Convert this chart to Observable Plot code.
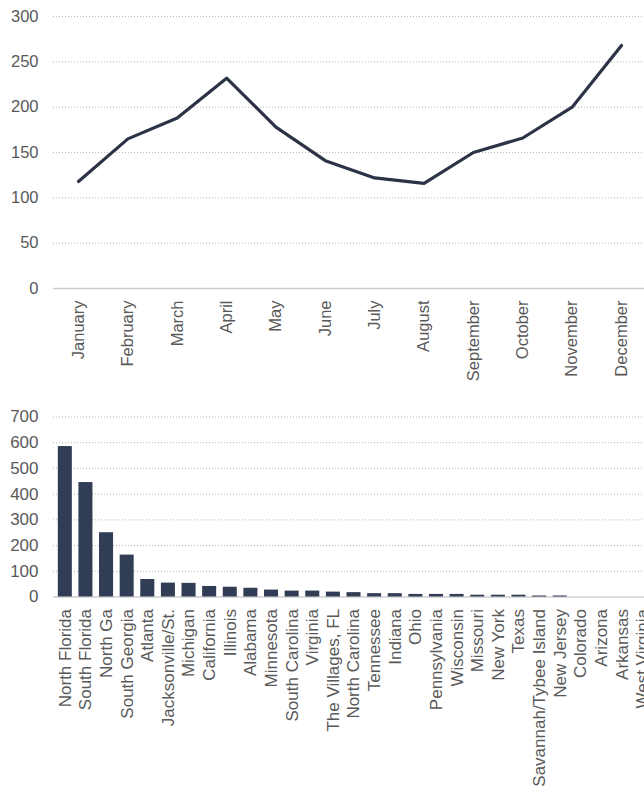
<!DOCTYPE html>
<html>
<head>
<meta charset="utf-8">
<script src="https://cdn.jsdelivr.net/npm/d3@7"></script>
<script src="https://cdn.jsdelivr.net/npm/@observablehq/plot@0.6"></script>
<style>
  html, body { margin: 0; padding: 0; background: #fff; overflow: hidden; }
  #chart svg { display: block; }
</style>
</head>
<body>
<div id="chart"></div>
<script>
// Monthly line chart
const months = ["January","February","March","April","May","June","July","August","September","October","November","December"];
const monthValues = [118, 165, 188, 232, 178, 141, 122, 116, 150, 166, 200, 268];
const lineTicks = [0, 50, 100, 150, 200, 250, 300];

// Location bar chart
const locations = ["North Florida","South Florida","North Ga","South Georgia","Atlanta","Jacksonville/St.","Michigan","California","Illinois","Alabama","Minnesota","South Carolina","Virginia","The Villages, FL","North Carolina","Tennessee","Indiana","Ohio","Pennsylvania","Wisconsin","Missouri","New York","Texas","Savannah/Tybee Island","New Jersey","Colorado","Arizona","Arkansas","West Virginia"];
const locationValues = [585, 445, 250, 163, 68, 54, 53, 41, 38, 34, 27, 23, 23, 19, 17, 13, 13, 10, 10, 10, 7, 7, 7, 4, 4, 0, 0, 0, 0];
const barTicks = [0, 100, 200, 300, 400, 500, 600, 700];

const textColor = "#595959";
const gridColor = "#b4b4b4";
const baseColor = "#cfcfcf";
const ink = "#2c3346";
const barFill = "#313c55";

const lineData = months.map((m, i) => ({month: m, value: monthValues[i]}));
const barData = locations.map((c, i) => ({loc: c, value: locationValues[i]}));

const lineChart = Plot.plot({
  width: 644,
  height: 395,
  marginLeft: 53,
  marginRight: 0,
  marginTop: 16,
  marginBottom: 107,
  style: {fontFamily: "'Liberation Sans', Arial, sans-serif", fontSize: "16.5px", color: textColor, background: "#fff"},
  x: {type: "point", domain: months, range: [78, 621], padding: 0, round: false, tickRotate: -90, tickSize: 0, tickPadding: 12, label: null},
  y: {domain: [0, 300], ticks: lineTicks, tickSize: 0, tickPadding: 15, label: null, line: false},
  marks: [
    Plot.ruleY(lineTicks.filter(d => d > 0), {stroke: gridColor, strokeDasharray: "1,2", strokeWidth: 1}),
    Plot.ruleY([0], {stroke: baseColor, strokeWidth: 1.5}),
    Plot.line(lineData, {x: "month", y: "value", stroke: ink, strokeWidth: 3.2})
  ]
});

const barChart = Plot.plot({
  width: 644,
  height: 391,
  marginLeft: 53,
  marginRight: 0,
  marginTop: 21.5,
  marginBottom: 189.5,
  style: {fontFamily: "'Liberation Sans', Arial, sans-serif", fontSize: "17px", color: textColor, background: "#fff"},
  x: {type: "band", domain: locations, range: [57.8, 649.2], paddingInner: 0.32, paddingOuter: 0, align: 0.5, round: false, tickRotate: -90, tickSize: 0, tickPadding: 12, label: null},
  y: {domain: [0, 700], ticks: barTicks, tickSize: 0, tickPadding: 15, label: null},
  marks: [
    Plot.ruleY(barTicks.filter(d => d > 0), {stroke: gridColor, strokeDasharray: "1,2", strokeWidth: 1}),
    Plot.ruleY([0], {stroke: baseColor, strokeWidth: 1.5}),
    Plot.barY(barData, {x: "loc", y: "value", fill: barFill})
  ]
});

document.getElementById("chart").append(lineChart, barChart);
</script>
</body>
</html>
